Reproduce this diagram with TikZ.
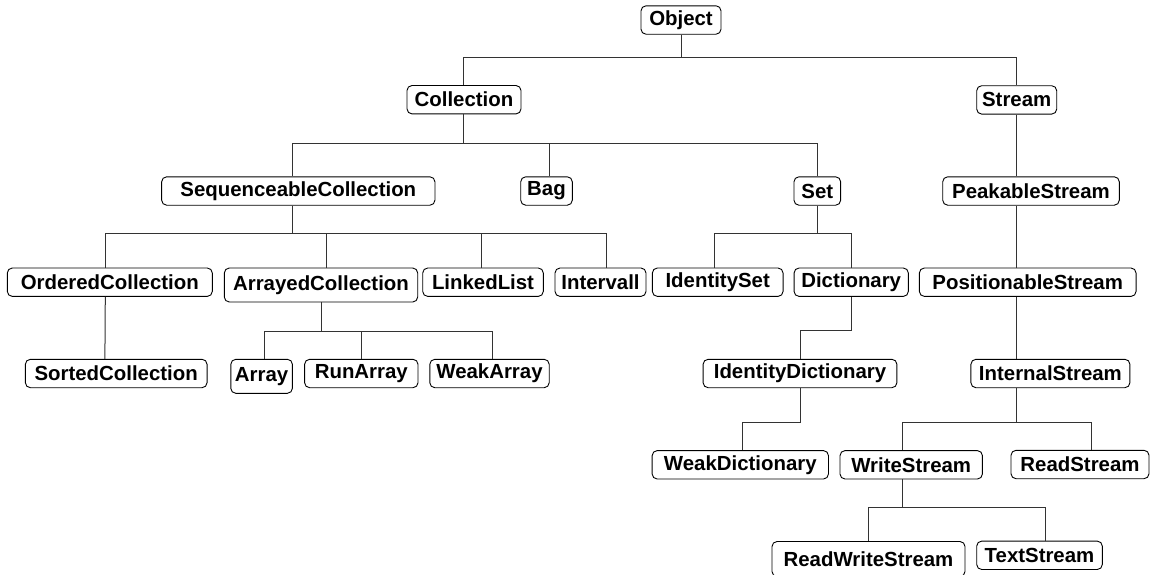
\documentclass[tikz,border=0pt]{standalone}
\usepackage{fontspec}
\setmainfont{Liberation Sans}
% parent -> child connector with an elbow: parent, parent x offset, child, child x offset, elbow depth
\newcommand\treebranch[5]{\draw[link] ([xshift=#2pt]#1.south) -- ++(0,#5) -| ([xshift=#4pt]#3.north);}
% straight parent -> child connector
\newcommand\treestem[4]{\draw[link] ([xshift=#2pt]#1.south) -- ([xshift=#4pt]#3.north);}
\begin{document}
\begin{tikzpicture}[x=1pt,y=-1pt,
  cls/.style={draw=black, line width=0.9pt, rounded corners=5pt, inner sep=1pt,
    font=\bfseries\fontsize{20.4}{24}\selectfont, text=black, minimum height=28.4pt},
  tall/.style={minimum height=34pt},
  link/.style={draw=black!80, line width=1pt}]
\useasboundingbox (0,0) rectangle (1151,574);

% level 0 and 1
\node[cls, minimum width=80pt]    (obj)  at (681,20)      {Object};
\node[cls, minimum width=114pt]   (coll) at (464,99.7)    {Collection};
\node[cls, minimum width=80pt]    (strm) at (1016.7,99.9) {Stream};

% level 2
\node[cls, minimum width=273.3pt] (seq)  at (298.3,191)   {SequenceableCollection};
\node[cls, minimum width=51.6pt]  (bag)  at (546.5,191)   {Bag};
\node[cls, minimum width=46.7pt]  (set)  at (817.3,191)   {Set};
\node[cls, minimum width=176.6pt] (peak) at (1031,191)    {PeakableStream};

% level 3
\node[cls, minimum width=205pt]        (ord)    at (109.8,282.2)  {OrderedCollection};
\node[cls, tall, minimum width=193.4pt] (arr)   at (321,285)      {ArrayedCollection};
\node[cls, minimum width=120.6pt]      (linked) at (483,282.2)    {LinkedList};
\node[cls, minimum width=91pt]         (interv) at (600.5,282.2)  {Intervall};
\node[cls, minimum width=130.7pt]      (idset)  at (717.7,282.2)  {IdentitySet};
\node[cls, minimum width=114.3pt]      (dict)   at (851.2,282.2)  {Dictionary};
\node[cls, minimum width=216.7pt]      (pos)    at (1027.7,282.2) {PositionableStream};

% level 4
\node[cls, minimum width=181.7pt]      (sorted)   at (116.2,373.5)  {SortedCollection};
\node[cls, tall, minimum width=61.6pt] (array)    at (261.6,376.3)  {Array};
\node[cls, minimum width=113.4pt]      (runarr)   at (361.3,373.5)  {RunArray};
\node[cls, minimum width=119.4pt]      (weakarr)  at (489.5,373.5)  {WeakArray};
\node[cls, minimum width=193.8pt]      (iddict)   at (800,373.5)    {IdentityDictionary};
\node[cls, minimum width=159pt]        (internal) at (1050.4,373.5) {InternalStream};

% level 5
\node[cls, minimum width=176.3pt] (weakdict) at (740.3,464.8) {WeakDictionary};
\node[cls, minimum width=142.4pt] (write)    at (911.2,464.8) {WriteStream};
\node[cls, minimum width=138pt]   (read)     at (1080,464.5)  {ReadStream};

% level 6
\node[cls, minimum width=193pt, minimum height=35pt] (rws)  at (868.5,559)    {ReadWriteStream};
\node[cls, minimum width=125.6pt]                    (text) at (1039.5,555.3) {TextStream};

% connectors
\treebranch{obj}{0}{coll}{-0.7}{23}
\treebranch{obj}{0}{strm}{0}{23}
\treebranch{coll}{-0.7}{seq}{-5.6}{28.8}
\treebranch{coll}{-0.7}{bag}{2.8}{28.8}
\treebranch{coll}{-0.7}{set}{0}{28.8}
\treestem{strm}{0}{peak}{-14.3}
\treebranch{seq}{-5.6}{ord}{-4.5}{28}
\treebranch{seq}{-5.6}{arr}{5.7}{28}
\treebranch{seq}{-5.6}{linked}{-2}{28}
\treebranch{seq}{-5.6}{interv}{5.5}{28}
\treebranch{set}{0}{idset}{-3.2}{28}
\treebranch{set}{0}{dict}{0}{28}
\treestem{peak}{-14.3}{pos}{-11}
\treestem{ord}{-4.5}{sorted}{-11.3}
\treebranch{arr}{0.5}{array}{2.8}{29}
\treebranch{arr}{0.5}{runarr}{0}{29}
\treebranch{arr}{0.5}{weakarr}{3}{29}
\treebranch{dict}{0}{iddict}{0}{34}
\treestem{pos}{-11}{internal}{-33.7}
\treebranch{iddict}{0}{weakdict}{2.5}{34.3}
\treebranch{internal}{-33.7}{write}{-8.7}{34.3}
\treebranch{internal}{-33.7}{read}{11}{34.3}
\treebranch{write}{-8.7}{rws}{0}{28.2}
\treebranch{write}{-8.7}{text}{5.5}{28.2}
\end{tikzpicture}
\end{document}
